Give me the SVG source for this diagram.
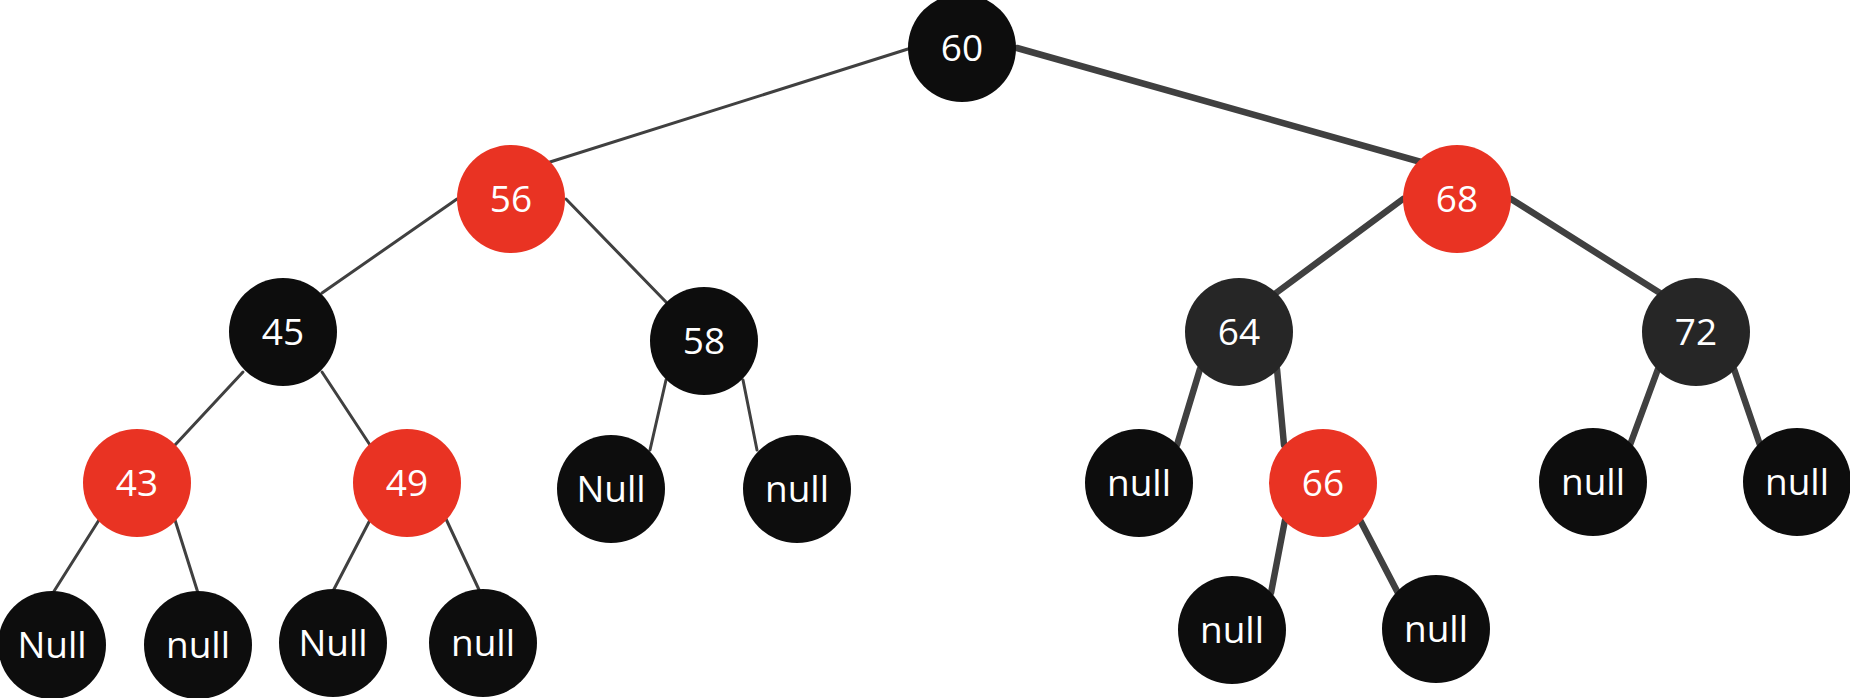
<svg xmlns="http://www.w3.org/2000/svg" width="1850" height="698" viewBox="0 0 1850 698">
<style>
.e{stroke:#404040;stroke-linecap:round;fill:none}
.t{stroke-width:3}
.k{stroke-width:6.5}
.b{fill:#0d0d0d}
.g{fill:#262626}
.r{fill:#e93323}
text{font-family:"Open Sans","Noto Sans","DejaVu Sans",sans-serif;font-size:37px;fill:#ffffff;text-anchor:middle}
</style>
<rect width="1850" height="698" fill="#ffffff"/>
<g id="connectors">
<line class="e t" x1="908" y1="49" x2="550" y2="162"/>
<line class="e k" x1="1017" y1="48" x2="1421" y2="162"/>
<line class="e t" x1="457" y1="199" x2="322" y2="293"/>
<line class="e t" x1="566" y1="199" x2="666" y2="302"/>
<line class="e t" x1="243" y1="372" x2="175" y2="445"/>
<line class="e t" x1="322" y1="372" x2="370" y2="445"/>
<line class="e t" x1="666" y1="380" x2="650" y2="450"/>
<line class="e t" x1="743" y1="380" x2="757" y2="450"/>
<line class="e t" x1="99" y1="520" x2="51" y2="596"/>
<line class="e t" x1="175" y1="520" x2="198" y2="593"/>
<line class="e t" x1="370" y1="520" x2="332" y2="593"/>
<line class="e t" x1="446" y1="519" x2="481" y2="594"/>
<line class="e k" x1="1403" y1="199" x2="1276" y2="293"/>
<line class="e k" x1="1511" y1="199" x2="1660" y2="293"/>
<line class="e k" x1="1200" y1="369" x2="1177" y2="445"/>
<line class="e k" x1="1277" y1="369" x2="1284" y2="445"/>
<line class="e k" x1="1658" y1="369" x2="1630" y2="445"/>
<line class="e k" x1="1734" y1="369" x2="1760" y2="445"/>
<line class="e k" x1="1285" y1="520" x2="1271" y2="593"/>
<line class="e k" x1="1360" y1="520" x2="1398" y2="593"/>
</g>
<g id="n60"><circle class="b" cx="962" cy="48" r="54"/><text x="962" y="61">60</text></g>
<g id="n56"><circle class="r" cx="511" cy="199" r="54"/><text x="511" y="212">56</text></g>
<g id="n68"><circle class="r" cx="1457" cy="199" r="54"/><text x="1457" y="212">68</text></g>
<g id="n45"><circle class="b" cx="283" cy="332" r="54"/><text x="283" y="345">45</text></g>
<g id="n58"><circle class="b" cx="704" cy="341" r="54"/><text x="704" y="354">58</text></g>
<g id="n64"><circle class="g" cx="1239" cy="332" r="54"/><text x="1239" y="345">64</text></g>
<g id="n72"><circle class="g" cx="1696" cy="332" r="54"/><text x="1696" y="345">72</text></g>
<g id="n43"><circle class="r" cx="137" cy="483" r="54"/><text x="137" y="496">43</text></g>
<g id="n49"><circle class="r" cx="407" cy="483" r="54"/><text x="407" y="496">49</text></g>
<g id="n58L"><circle class="b" cx="611" cy="489" r="54"/><text x="611" y="502">Null</text></g>
<g id="n58R"><circle class="b" cx="797" cy="489" r="54"/><text x="797" y="502">null</text></g>
<g id="n64L"><circle class="b" cx="1139" cy="483" r="54"/><text x="1139" y="496">null</text></g>
<g id="n66"><circle class="r" cx="1323" cy="483" r="54"/><text x="1323" y="496">66</text></g>
<g id="n72L"><circle class="b" cx="1593" cy="482" r="54"/><text x="1593" y="495">null</text></g>
<g id="n72R"><circle class="b" cx="1797" cy="482" r="54"/><text x="1797" y="495">null</text></g>
<g id="n43L"><circle class="b" cx="52" cy="645" r="54"/><text x="52" y="658">Null</text></g>
<g id="n43R"><circle class="b" cx="198" cy="645" r="54"/><text x="198" y="658">null</text></g>
<g id="n49L"><circle class="b" cx="333" cy="643" r="54"/><text x="333" y="656">Null</text></g>
<g id="n49R"><circle class="b" cx="483" cy="643" r="54"/><text x="483" y="656">null</text></g>
<g id="n66L"><circle class="b" cx="1232" cy="630" r="54"/><text x="1232" y="643">null</text></g>
<g id="n66R"><circle class="b" cx="1436" cy="629" r="54"/><text x="1436" y="642">null</text></g>
</svg>
